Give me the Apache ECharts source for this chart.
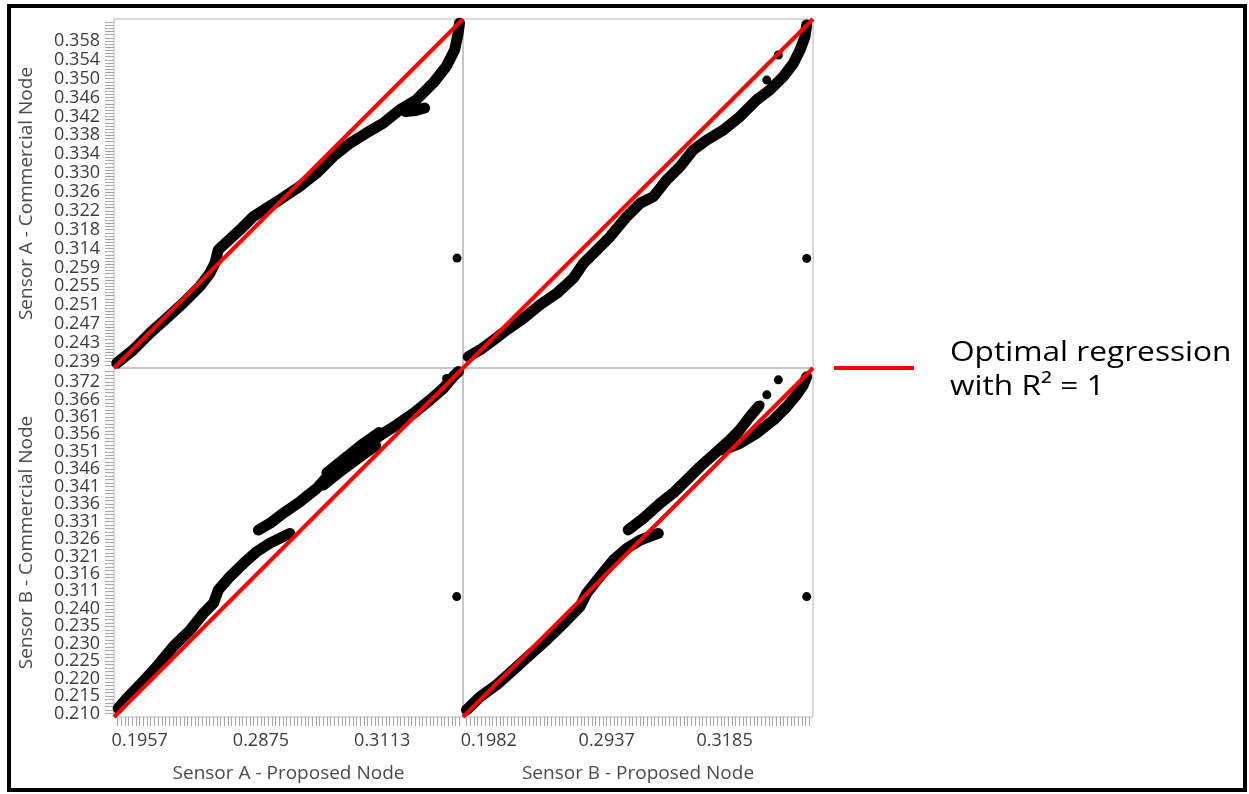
<!DOCTYPE html>
<html>
<head>
<meta charset="utf-8">
<script src="https://cdn.jsdelivr.net/npm/echarts@6/dist/echarts.min.js"></script>
<style>
html, body { margin: 0; padding: 0; background: #fff; }
#main { width: 1249px; height: 794px; }
</style>
</head>
<body>
<div id="main"></div>
<script>
// labelled categories of each axis (bottom->top, left->right)
var yLabelsTop = ['0.239','0.243','0.247','0.251','0.255','0.259','0.314','0.318','0.322','0.326','0.330','0.334','0.338','0.342','0.346','0.350','0.354','0.358'];
var yLabelsBottom = ['0.210','0.215','0.220','0.225','0.230','0.235','0.240','0.311','0.316','0.321','0.326','0.331','0.336','0.341','0.346','0.351','0.356','0.361','0.366','0.372'];
var xLabelsLeft = ['0.1957','0.2875','0.3113'];
var xLabelsRight = ['0.1982','0.2937','0.3185'];

// number of categories per axis, first labelled category, label step
var yTicksTop = { count: 111, first: 2, step: 6 };
var yTicksBottom = { count: 100, first: 1, step: 5 };
var xTicksLeft = { count: 95, first: 7, step: 33 };
var xTicksRight = { count: 95, first: 7, step: 32 };

// points as share of the category range (x, y); null breaks the band
var bandAA = [[0.008,0.014],[0.055,0.052],[0.103,0.1],[0.151,0.143],[0.198,0.186],[0.246,0.234],[0.275,0.272],[0.289,0.3],
  [0.299,0.339],[0.361,0.396],[0.399,0.434],[0.437,0.458],[0.475,0.482],[0.532,0.52],[0.58,0.558],[0.628,0.606],
  [0.676,0.644],[0.723,0.673],[0.771,0.701],[0.819,0.74],[0.866,0.768],[0.914,0.816],[0.952,0.864],[0.976,0.911],
  [0.986,0.959],[0.99,0.988], null,
  [0.835,0.735],[0.865,0.738],[0.89,0.745]];
var dotsAA = [[0.983,0.315]];

var bandBA = [[0.015,0.032],[0.049,0.052],[0.087,0.08],[0.125,0.109],[0.172,0.142],[0.22,0.181],[0.268,0.214],[0.315,0.257],
  [0.344,0.3],[0.382,0.338],[0.42,0.376],[0.468,0.434],[0.506,0.472],[0.544,0.491],[0.582,0.539],[0.62,0.577],
  [0.658,0.625],[0.696,0.653],[0.744,0.682],[0.791,0.72],[0.839,0.768],[0.877,0.797],[0.915,0.835],[0.944,0.873],
  [0.963,0.911],[0.977,0.949],[0.982,0.983]];
var dotsBA = [[0.868,0.825],[0.901,0.897],[0.982,0.314]];

var bandAB = [[0.012,0.025],[0.036,0.053],[0.074,0.092],[0.122,0.144],[0.17,0.202],[0.218,0.249],[0.256,0.297],[0.285,0.326],
  [0.299,0.364],[0.332,0.402],[0.371,0.44],[0.409,0.474],[0.447,0.498],[0.485,0.517],[0.504,0.526], null,
  [0.414,0.536],[0.447,0.555],[0.485,0.584],[0.533,0.617],[0.581,0.655],[0.628,0.708],[0.676,0.746],[0.724,0.779],
  [0.772,0.813],[0.81,0.837],[0.858,0.87],[0.905,0.908],[0.944,0.942],[0.972,0.975],[0.987,0.99], null,
  [0.6,0.665],[0.65,0.705],[0.7,0.742],[0.75,0.778], null,
  [0.61,0.7],[0.66,0.74],[0.71,0.78],[0.76,0.815]];
var dotsAB = [[0.953,0.97],[0.982,0.345]];

var bandBB = [[0.01,0.02],[0.049,0.058],[0.096,0.092],[0.144,0.135],[0.191,0.178],[0.239,0.221],[0.287,0.268],[0.334,0.316],
  [0.353,0.354],[0.391,0.402],[0.43,0.45],[0.468,0.483],[0.506,0.507],[0.544,0.521],[0.558,0.526], null,
  [0.472,0.536],[0.515,0.569],[0.563,0.612],[0.601,0.642],[0.639,0.679],[0.677,0.717],[0.725,0.76],[0.763,0.794],
  [0.791,0.823],[0.82,0.861],[0.844,0.89], null,
  [0.744,0.765],[0.791,0.784],[0.839,0.813],[0.887,0.851],[0.925,0.889],[0.953,0.923],[0.972,0.951],[0.982,0.975]];
var dotsBB = [[0.901,0.966],[0.868,0.923],[0.849,0.894],[0.982,0.345]];

var optimalLine = [[0, 0], [1, 1]];

var font = 'Open Sans';

function ticksOf(t) {
    var v = [];
    for (var i = 0; i <= t.count; i++) v.push(i / t.count);
    return v;
}

function labelAxis(g, t, labels, name, isY) {
    // blank labels at both ends keep the real end labels out of the min/max overlap check
    var labelVals = [0].concat(labels.map(function (l, j) { return (t.first + j * t.step) / t.count; }), [1]);
    return {
        type: 'value', gridIndex: g, min: 0, max: 1,
        axisLine: { show: false },
        splitLine: { show: false },
        axisTick: { show: true, length: 9, customValues: ticksOf(t), lineStyle: { color: '#a8a8a8', width: 1 } },
        axisLabel: {
            show: true, customValues: labelVals, showMinLabel: false, showMaxLabel: false, hideOverlap: false,
            margin: isY ? 14 : 17, fontSize: 18, lineHeight: 14, fontFamily: font, color: '#3c3c3c',
            formatter: function (v) {
                var k = Math.round(v * t.count) - t.first;
                if (k < 0 || k % t.step !== 0) return '';
                return labels[k / t.step] || '';
            }
        },
        name: name, nameLocation: 'middle', nameGap: isY ? 78 : 47,
        nameTextStyle: { fontSize: 19, fontFamily: font, color: '#4a4a4a' }
    };
}

function hiddenAxis(g) {
    return { type: 'value', gridIndex: g, min: 0, max: 1, show: false, splitLine: { show: false } };
}

var grids = [
    { left: 114, top: 19, width: 349, height: 349 },
    { left: 463, top: 19, width: 350, height: 349 },
    { left: 114, top: 368, width: 349, height: 349 },
    { left: 463, top: 368, width: 350, height: 349 }
].map(function (g) {
    g.show = true; g.borderColor = '#b4b4b4'; g.borderWidth = 1; g.backgroundColor = 'transparent';
    return g;
});

var xAxes = [
    hiddenAxis(0),
    hiddenAxis(1),
    labelAxis(2, xTicksLeft, xLabelsLeft, 'Sensor A - Proposed Node', false),
    labelAxis(3, xTicksRight, xLabelsRight, 'Sensor B - Proposed Node', false)
];
var yAxes = [
    labelAxis(0, yTicksTop, yLabelsTop, 'Sensor A - Commercial Node', true),
    hiddenAxis(1),
    labelAxis(2, yTicksBottom, yLabelsBottom, 'Sensor B - Commercial Node', true),
    hiddenAxis(3)
];

var panels = [
    { band: bandAA, dots: dotsAA },
    { band: bandBA, dots: dotsBA },
    { band: bandAB, dots: dotsAB },
    { band: bandBB, dots: dotsBB }
];

var series = [];
panels.forEach(function (p, i) {
    series.push({
        type: 'line', xAxisIndex: i, yAxisIndex: i, data: p.band,
        showSymbol: false, symbol: 'none', connectNulls: false, silent: true, z: 2,
        lineStyle: { color: '#000', width: 11, cap: 'round', join: 'round' }
    });
    series.push({
        type: 'scatter', xAxisIndex: i, yAxisIndex: i, data: p.dots,
        symbolSize: 9, itemStyle: { color: '#000', opacity: 1 }, silent: true, z: 3
    });
    series.push({
        type: 'line', xAxisIndex: i, yAxisIndex: i, data: optimalLine,
        showSymbol: false, symbol: 'none', clip: false, silent: true, z: 4,
        lineStyle: { color: '#ff0000', width: 4 }
    });
});

var myChart = echarts.init(document.getElementById('main'));
var option = {
    animation: false,
    backgroundColor: '#fff',
    grid: grids,
    xAxis: xAxes,
    yAxis: yAxes,
    series: series,
    graphic: [
        { type: 'rect', shape: { x: 9, y: 6, width: 1236, height: 784 }, style: { fill: 'none', stroke: '#000', lineWidth: 4 } },
        { type: 'line', shape: { x1: 834, y1: 368, x2: 914, y2: 368 }, style: { stroke: '#ff0000', lineWidth: 4 } },
        { type: 'text', x: 950, y: 336, scaleX: 1.13, style: { text: 'Optimal regression\nwith R\u00b2 = 1', font: '28px "Open Sans"', fill: '#000', lineHeight: 34 } }
    ]
};
myChart.setOption(option);
</script>
</body>
</html>
